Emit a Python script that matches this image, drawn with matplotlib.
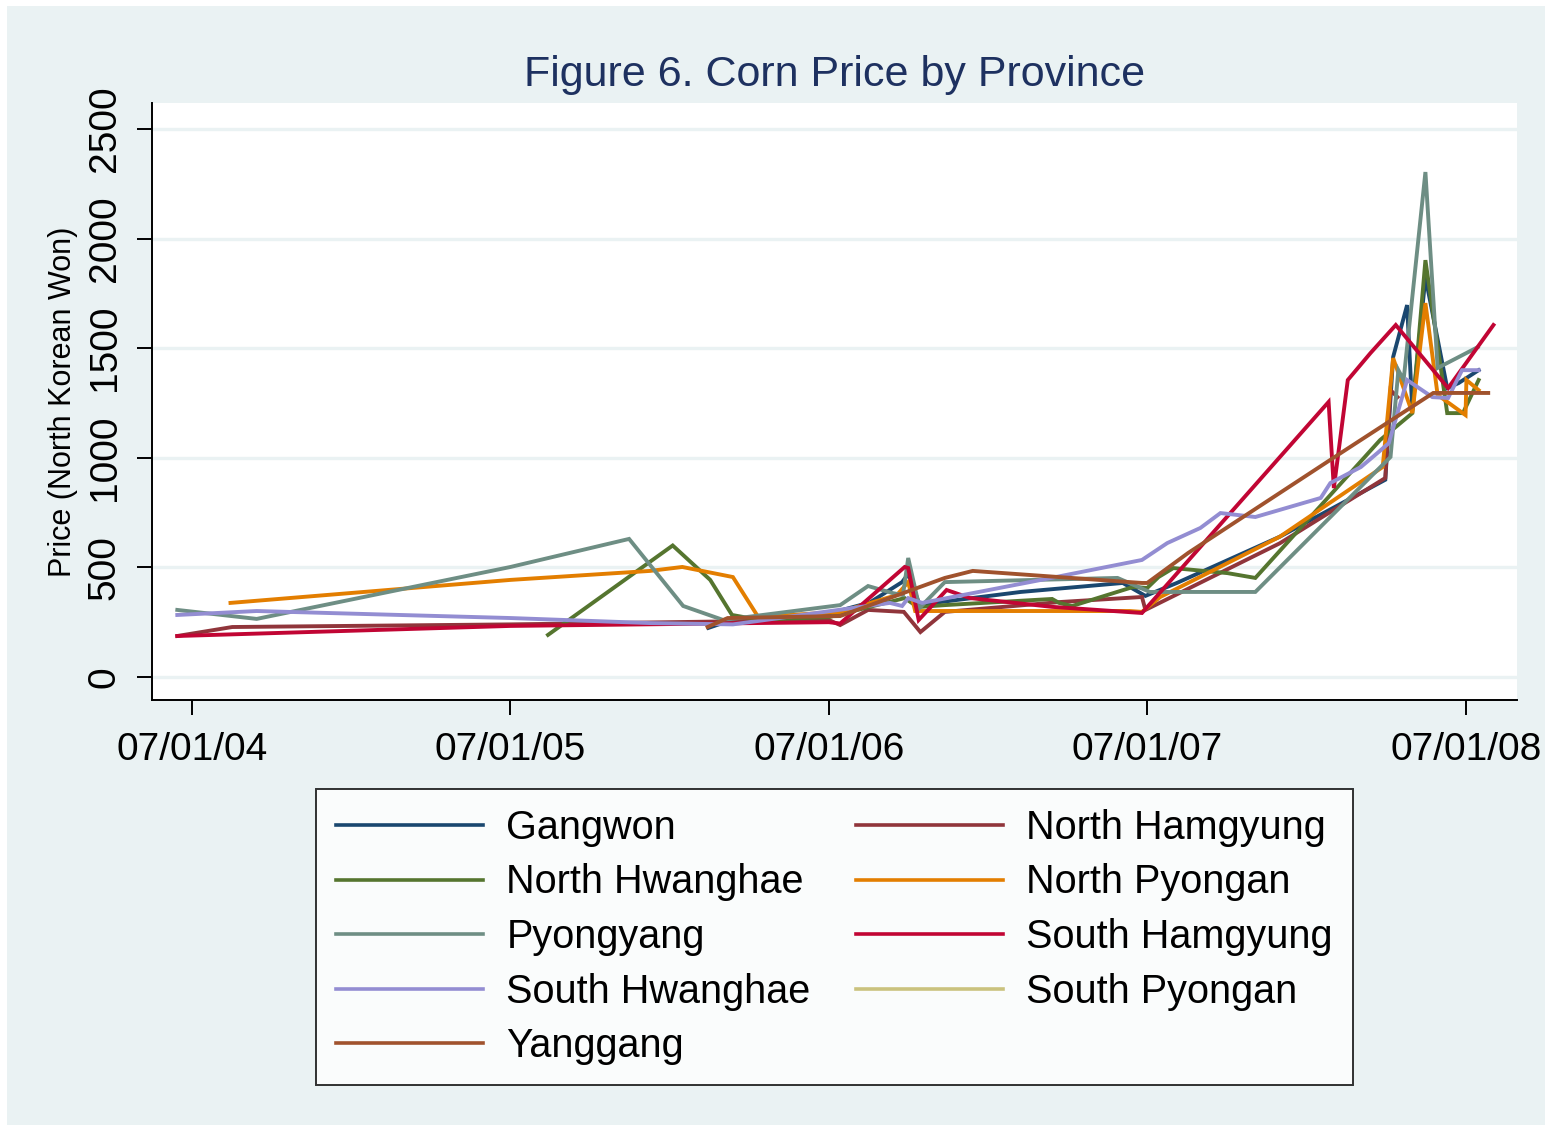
import numpy as np
import pandas as pd
import matplotlib
matplotlib.use("Agg")
import matplotlib.pyplot as plt
import matplotlib.dates as mdates
from matplotlib.patches import Rectangle

plt.rcParams['font.family'] = ['Liberation Sans', 'DejaVu Sans']

# corn prices (North Korean Won)
gangwon_d = ['2006-02-13', '2006-03-13', '2006-07-02', '2006-08-17', '2006-09-23', '2006-09-30',
             '2006-10-13', '2007-02-06', '2007-06-03', '2007-06-29', '2007-08-04', '2007-11-30',
             '2008-03-30', '2008-04-08', '2008-04-24', '2008-04-30', '2008-05-15', '2008-06-09',
             '2008-06-22', '2008-07-15']
gangwon_v = [224, 262, 290, 340, 433, 470, 330, 388, 429, 370, 429, 640, 900, 1460, 1697, 1218,
             1825, 1318, 1341, 1400]

nhamgyung_d = ['2004-06-14', '2004-08-16', '2005-07-01', '2006-07-01', '2006-07-14', '2006-08-15',
               '2006-09-25', '2006-10-14', '2006-11-11', '2007-03-23', '2007-06-25', '2007-06-29',
               '2007-11-30', '2008-03-30', '2008-04-05', '2008-04-13']
nhamgyung_v = [187, 228, 240, 260, 237, 306, 297, 205, 297, 342, 365, 306, 610, 908, 1309, 1277]

nhwanghae_d = ['2005-08-13', '2006-01-03', '2006-02-15', '2006-03-12', '2006-04-13', '2006-07-02',
               '2006-09-26', '2006-10-11', '2006-11-11', '2007-03-14', '2007-03-22', '2007-04-06',
               '2007-06-15', '2007-07-01', '2007-07-14', '2007-07-31', '2007-10-01', '2007-11-02',
               '2008-03-24', '2008-04-30', '2008-05-15', '2008-06-09', '2008-06-27', '2008-07-15']
nhwanghae_v = [192, 600, 443, 283, 260, 274, 360, 319, 328, 356, 338, 324, 411, 406, 456, 497,
               474, 452, 1081, 1204, 1902, 1204, 1204, 1355]

npyongan_d = ['2004-08-14', '2005-07-01', '2005-12-08', '2006-01-14', '2006-03-13', '2006-04-11',
              '2006-07-14', '2006-09-17', '2006-09-30', '2006-10-08', '2007-06-11', '2007-06-25',
              '2007-07-16', '2007-11-30', '2008-03-27', '2008-04-08', '2008-04-30', '2008-05-15',
              '2008-05-29', '2008-06-30', '2008-07-01', '2008-07-15']
npyongan_v = [338, 443, 484, 502, 456, 274, 297, 374, 433, 301, 301, 297, 365, 640, 958, 1455,
              1204, 1706, 1287, 1195, 1355, 1309]

pyongyang_d = ['2004-06-14', '2004-09-13', '2005-07-01', '2005-11-14', '2006-01-15', '2006-03-02',
               '2006-07-14', '2006-08-15', '2006-09-12', '2006-09-24', '2006-09-30', '2006-10-13',
               '2006-11-11', '2007-05-28', '2007-07-04', '2007-11-02', '2008-04-05', '2008-04-14',
               '2008-04-20', '2008-05-15', '2008-05-29', '2008-07-14']
pyongyang_v = [306, 265, 502, 630, 324, 260, 328, 415, 383, 374, 543, 315, 433, 452, 388, 388,
               1004, 1400, 1355, 2304, 1410, 1505]

shamgyung_d = ['2004-06-14', '2005-07-01', '2006-07-01', '2006-07-14', '2006-09-26', '2006-09-30',
               '2006-10-12', '2006-11-13', '2006-12-10', '2007-03-14', '2007-06-25', '2008-01-25',
               '2008-01-31', '2008-02-16', '2008-03-13', '2008-04-11', '2008-06-10', '2008-08-01']
shamgyung_v = [187, 233, 250, 244, 502, 497, 260, 397, 360, 320, 292, 1255, 862, 1355, 1478,
               1606, 1318, 1606]

shwanghae_d = ['2004-06-14', '2004-09-13', '2005-07-01', '2005-12-08', '2006-03-13', '2006-09-09',
               '2006-09-23', '2006-09-30', '2006-10-16', '2007-03-13', '2007-06-25', '2007-07-24',
               '2007-08-31', '2007-09-23', '2007-11-02', '2008-01-16', '2008-01-27', '2008-03-02',
               '2008-03-21', '2008-04-03', '2008-04-24', '2008-05-23', '2008-06-10', '2008-06-26',
               '2008-07-15']
shwanghae_v = [283, 301, 269, 246, 240, 338, 324, 360, 338, 452, 534, 611, 680, 748, 730, 817,
               885, 958, 1022, 1067, 1355, 1277, 1273, 1400, 1400]

spyongan_d = []
spyongan_v = []

yanggang_d = ['2006-02-12', '2006-03-07', '2006-07-14', '2006-11-11', '2006-12-13', '2007-06-25',
              '2007-07-01', '2007-08-17', '2008-02-08', '2008-05-24', '2008-07-26']
yanggang_v = [228, 269, 278, 452, 484, 429, 429, 566, 1022, 1296, 1296]

provinces = ['Gangwon', 'North Hamgyung', 'North Hwanghae', 'North Pyongan', 'Pyongyang',
             'South Hamgyung', 'South Hwanghae', 'South Pyongan', 'Yanggang']
colors = ['#1a476f', '#90353b', '#55752f', '#e37e00', '#6e8e84',
          '#c10534', '#938dd2', '#cac27e', '#a0522d']
series = [(gangwon_d, gangwon_v), (nhamgyung_d, nhamgyung_v), (nhwanghae_d, nhwanghae_v),
          (npyongan_d, npyongan_v), (pyongyang_d, pyongyang_v), (shamgyung_d, shamgyung_v),
          (shwanghae_d, shwanghae_v), (spyongan_d, spyongan_v), (yanggang_d, yanggang_v)]

xticks = ['2004-07-01', '2005-07-01', '2006-07-01', '2007-07-01', '2008-07-01']
yticks = [0, 500, 1000, 1500, 2000, 2500]

bg = '#eaf2f3'
fig = plt.figure(figsize=(15.51, 11.30), dpi=100, facecolor='white')
fig.patches.append(Rectangle((7 / 1551, 5 / 1130), 1538 / 1551, 1119 / 1130,
                             transform=fig.transFigure, facecolor=bg, edgecolor='none', zorder=-10))
ax = fig.add_axes([152 / 1551, 1 - 700 / 1130, 1365 / 1551, 597 / 1130])
ax.set_facecolor('white')

lines = []
for (d, v), name, c in zip(series, provinces, colors):
    ln, = ax.plot(pd.to_datetime(d), v, color=c, lw=2.8, label=name, solid_joinstyle='miter')
    lines.append(ln)

ax.set_ylim(-105, 2619)
ax.set_xlim(pd.Timestamp('2004-05-16'), pd.Timestamp('2008-08-28'))
ax.set_yticks(yticks)
ax.set_xticks(pd.to_datetime(xticks))
ax.xaxis.set_major_formatter(mdates.DateFormatter('%m/%d/%y'))
ax.grid(axis='y', color=bg, lw=2.4)
ax.set_axisbelow(True)
for s in ['top', 'right']:
    ax.spines[s].set_visible(False)
for s in ['left', 'bottom']:
    ax.spines[s].set_linewidth(1.4)
ax.tick_params(axis='both', length=11, width=1.4, labelsize=28)
ax.tick_params(axis='y', pad=10)
ax.tick_params(axis='x', pad=12)
for lab in ax.get_yticklabels():
    lab.set_rotation(90)
    lab.set_va('center')
ax.set_ylabel('Price (North Korean Won)', fontsize=22, labelpad=6)
ax.set_title('Figure 6. Corn Price by Province', fontsize=31, color='#1e3160', pad=12)

order = [0, 2, 4, 6, 8, 1, 3, 5, 7]
leg = fig.legend([lines[i] for i in order], [provinces[i] for i in order],
                 loc='upper center', bbox_to_anchor=(0.538, 1 - 789 / 1130), ncol=2,
                 fontsize=28.5, frameon=True, fancybox=False, edgecolor='black',
                 handlelength=3.7, handletextpad=0.6, columnspacing=1.15,
                 labelspacing=0.42, borderpad=0.5, borderaxespad=0)
leg.get_frame().set_linewidth(1.4)
for h in leg.get_lines():
    h.set_linewidth(2.6)

fig.savefig('out.png', dpi=100, facecolor=fig.get_facecolor())
